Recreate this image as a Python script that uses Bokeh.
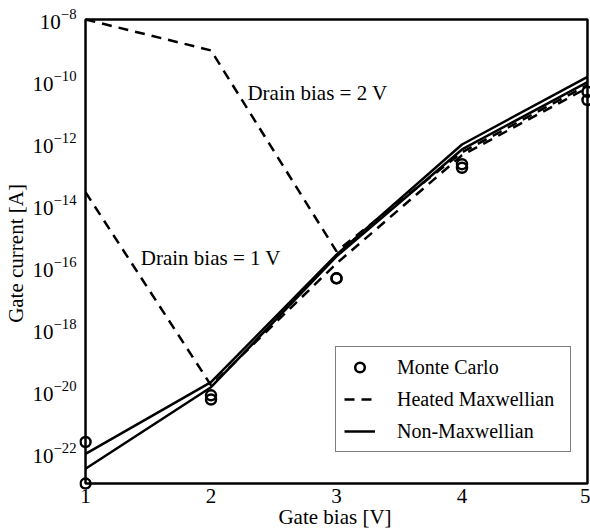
import math
from bokeh.plotting import figure
from bokeh.models import (Range1d, FixedTicker, BoxAnnotation, Label, Legend,
                          LegendItem, ColumnDataSource)
from bokeh.embed import file_html
from bokeh.resources import INLINE

# ---- data ----
gate_bias = [1, 2, 3, 4, 5]

# Non-Maxwellian (solid) for drain bias 1 V and 2 V
nonmax_1v = [3.0e-23, 1.3e-20, 2.2e-16, 6.3e-13, 9.5e-11]
nonmax_2v = [9.1e-23, 1.9e-20, 2.5e-16, 9.1e-13, 1.4e-10]

# Heated Maxwellian (dashed) for drain bias 1 V and 2 V
heated_1v = [2.6e-14, 1.5e-20, 1.3e-16, 4.1e-13, 6.2e-11]
heated_2v = [1.0e-8, 1.0e-9, 3.2e-16, 5.1e-13, 7.6e-11]

# Monte Carlo (circles)
mc_1v = [1.0e-23, 5.2e-21, 4.3e-17, 1.6e-13, 2.5e-11]
mc_2v = [2.2e-22, 7.1e-21, 4.3e-17, 2.1e-13, 4.6e-11]

x_ticks = [1, 2, 3, 4, 5]
y_ticks = [1e-8, 1e-10, 1e-12, 1e-14, 1e-16, 1e-18, 1e-20, 1e-22]

x_min, x_max = 1, 5
y_min, y_max = 1e-23, 1e-8

FONT = "Liberation Serif"

p = figure(width=590, height=531, output_backend="svg", toolbar_location=None,
           y_axis_type="log",
           x_range=Range1d(0.952, 5.024),
           y_range=Range1d(10 ** -23.192, 10 ** -7.936),
           min_border_left=79, min_border_right=0, min_border_top=17,
           min_border_bottom=38)
p.outline_line_color = None
p.xgrid.visible = False
p.ygrid.visible = False

# axes
for ax in (p.xaxis[0], p.yaxis[0]):
    ax.axis_line_color = None
    ax.major_tick_line_color = None
    ax.minor_tick_line_color = None
    ax.major_label_text_font = FONT
    ax.major_label_text_font_size = "21px"
    ax.major_label_text_color = "black"
    ax.axis_label_text_font = FONT
    ax.axis_label_text_font_size = "21px"
    ax.axis_label_text_font_style = "normal"
    ax.axis_label_text_color = "black"

p.xaxis.ticker = FixedTicker(ticks=x_ticks)
p.yaxis.ticker = FixedTicker(ticks=y_ticks)
p.xaxis.axis_label = "Gate bias [V]"
p.yaxis.axis_label = "Gate current [A]"
p.xaxis.major_label_standoff = -7
p.yaxis.major_label_standoff = -3
p.xaxis.axis_label_standoff = -1
p.yaxis.axis_label_standoff = 2

# lines
r_h1 = p.line(gate_bias, heated_1v, line_color="black", line_width=2.5, line_dash="10 7")
r_h2 = p.line(gate_bias, heated_2v, line_color="black", line_width=2.5, line_dash="10 7")
r_n1 = p.line(gate_bias, nonmax_1v, line_color="black", line_width=2.5)
r_n2 = p.line(gate_bias, nonmax_2v, line_color="black", line_width=2.5)

mc_src = ColumnDataSource(dict(x=gate_bias + gate_bias, y=mc_1v + mc_2v))
r_mc = p.scatter("x", "y", source=mc_src, marker="circle", size=10,
                 fill_color=None, line_color="black", line_width=2.5)

# frame box
p.add_layout(BoxAnnotation(left=x_min, right=x_max, bottom=y_min, top=y_max,
                           fill_alpha=0, line_color="black", line_alpha=1,
                           line_width=2.5))

# annotations
p.add_layout(Label(x=2.29, y=10 ** -10.37, text="Drain bias = 2 V",
                   text_baseline="middle", text_font=FONT,
                   text_font_size="21px", text_color="black"))
p.add_layout(Label(x=1.44, y=10 ** -15.72, text="Drain bias = 1 V",
                   text_baseline="middle", text_font=FONT,
                   text_font_size="21px", text_color="black"))

legend = Legend(items=[LegendItem(label="Monte Carlo", renderers=[r_mc]),
                       LegendItem(label="Heated Maxwellian", renderers=[r_h1]),
                       LegendItem(label="Non-Maxwellian", renderers=[r_n1])],
                location=(256, 37))
legend.label_text_font = FONT
legend.label_text_font_size = "20px"
legend.label_text_color = "black"
legend.glyph_width = 31
legend.glyph_height = 24
legend.label_height = 24
legend.label_width = 165
legend.label_standoff = 22
legend.spacing = 8
legend.padding = 8
legend.margin = 0
legend.border_line_color = "black"
legend.border_line_width = 1
legend.background_fill_alpha = 1
p.add_layout(legend)

open("out.html", "w").write(file_html(p, INLINE))
